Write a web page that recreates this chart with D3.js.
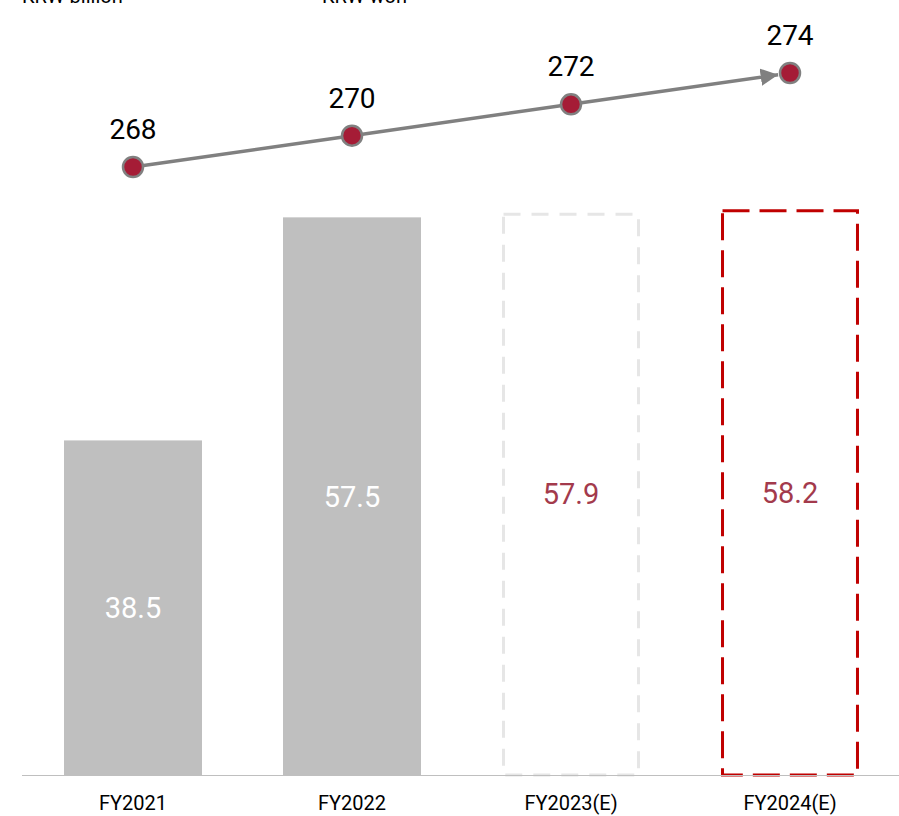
<!DOCTYPE html>
<html>
<head>
<meta charset="utf-8">
<script src="https://cdn.jsdelivr.net/npm/d3@7/dist/d3.min.js"></script>
<style>
  html, body { margin: 0; padding: 0; background: #ffffff; }
  svg { display: block; font-family: Roboto, "Noto Sans", sans-serif; }
</style>
</head>
<body>
<svg id="chart" width="899" height="816"></svg>
<script>
// ---- data ----
const categories = ["FY2021", "FY2022", "FY2023(E)", "FY2024(E)"];
const barValues = [38.5, 57.5, 57.9, 58.2];
const barStyles = ["solid", "solid", "dashedGray", "dashedRed"];
const lineValues = [268, 270, 272, 274];
const unitLabels = ["KRW billion", "KRW won"];

const W = 899, H = 816;
const svg = d3.select("#chart");

const x = d3.scaleBand().domain(categories).range([23.5, 899.5]).paddingInner(0.37).paddingOuter(0.185);
const y = d3.scaleLinear().domain([10, 70]).range([775, 70.6]);
const yLine = d3.scaleLinear().domain([268, 274]).range([167, 73]);

// unit labels (cut off at the top)
svg.selectAll("text.unit").data(unitLabels).join("text")
  .attr("class", "unit")
  .attr("x", (d, i) => i === 0 ? 22 : 322)
  .attr("y", 3)
  .attr("font-size", 20)
  .attr("fill", "#000")
  .text(d => d);

// bars
const bw = x.bandwidth();
const g = svg.append("g");
barValues.forEach((v, i) => {
  const cat = categories[i];
  const st = barStyles[i];
  if (st === "solid") {
    g.append("rect")
      .attr("x", x(cat)).attr("y", y(v))
      .attr("width", bw).attr("height", y.range()[0] - y(v))
      .attr("fill", "#bfbfbf");
  } else {
    const gray = st === "dashedGray";
    g.append("rect")
      .attr("x", x(cat) + 1.5).attr("y", y(v) + 1.5)
      .attr("width", bw - 3).attr("height", y.range()[0] - y(v) - 1.5)
      .attr("fill", "none")
      .attr("stroke", gray ? "#e6e6e6" : "#c00000")
      .attr("stroke-width", 3)
      .attr("stroke-dasharray", gray ? "17,11" : "27,10");
  }
  g.append("text")
    .attr("x", x(cat) + bw / 2)
    .attr("y", (y(v) + y.range()[0]) / 2)
    .attr("dy", "0.36em")
    .attr("text-anchor", "middle")
    .attr("font-size", 29)
    .attr("fill", st === "solid" ? "#ffffff" : "#a33a4c")
    .text(d3.format(".1f")(v));
});

// axis baseline
svg.append("line")
  .attr("x1", 22).attr("x2", 899)
  .attr("y1", 775.5).attr("y2", 775.5)
  .attr("stroke", "#bfbfbf").attr("stroke-width", 1.2);

// category labels
svg.selectAll("text.cat").data(categories).join("text")
  .attr("class", "cat")
  .attr("x", d => x(d) + bw / 2)
  .attr("y", 810)
  .attr("text-anchor", "middle")
  .attr("font-size", 20)
  .attr("fill", "#000")
  .text(d => d);

// line with arrow
svg.append("defs").append("marker")
  .attr("id", "arrow")
  .attr("viewBox", "0 0 10 10")
  .attr("refX", 10).attr("refY", 5)
  .attr("markerWidth", 5).attr("markerHeight", 5)
  .attr("markerUnits", "strokeWidth")
  .attr("orient", "auto")
  .append("path").attr("d", "M0,0 L10,5 L0,10 Z").attr("fill", "#808080");

const pts = lineValues.map((v, i) => [x(categories[i]) + bw / 2, yLine(v)]);
// shorten the last segment so the arrow tip touches the circle
const r = 10;
const linePts = pts.map(p => p.slice());
const a = pts[pts.length - 2], b = pts[pts.length - 1];
const dx = b[0] - a[0], dy = b[1] - a[1], len = Math.hypot(dx, dy);
linePts[linePts.length - 1] = [b[0] - dx / len * (r + 2), b[1] - dy / len * (r + 2)];

svg.append("path")
  .attr("d", d3.line()(linePts))
  .attr("fill", "none")
  .attr("stroke", "#808080")
  .attr("stroke-width", 3.5)
  .attr("marker-end", "url(#arrow)");

svg.selectAll("circle.pt").data(pts).join("circle")
  .attr("class", "pt")
  .attr("cx", d => d[0]).attr("cy", d => d[1])
  .attr("r", r)
  .attr("fill", "#a51c36")
  .attr("stroke", "#808080").attr("stroke-width", 2.5);

svg.selectAll("text.lv").data(lineValues).join("text")
  .attr("class", "lv")
  .attr("x", (d, i) => pts[i][0])
  .attr("y", (d, i) => pts[i][1] - 28)
  .attr("text-anchor", "middle")
  .attr("font-size", 28)
  .attr("fill", "#000")
  .text(d => d);
</script>
</body>
</html>
